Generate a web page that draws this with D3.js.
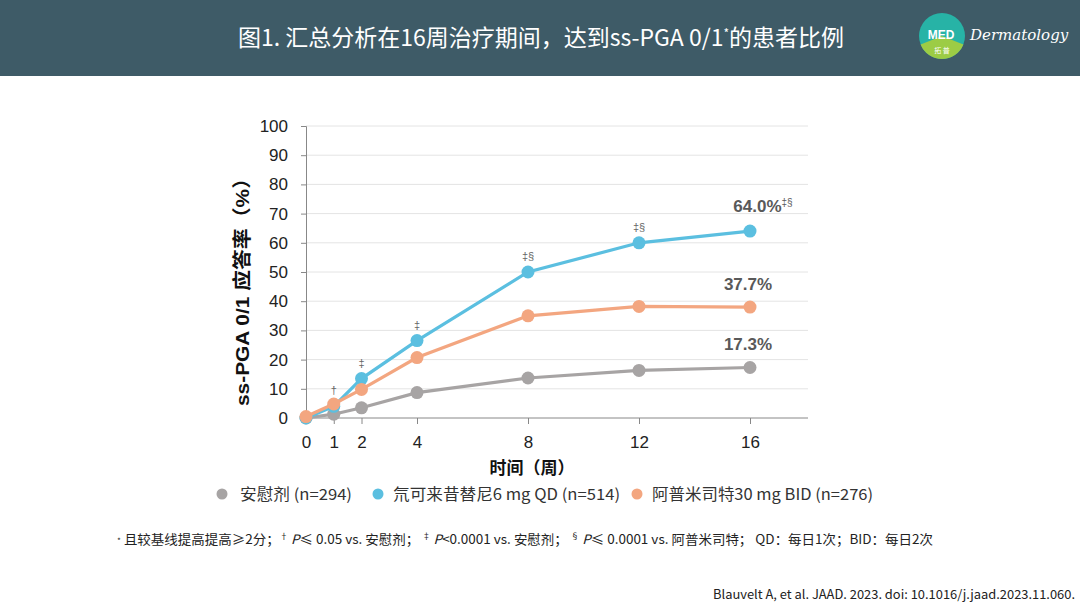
<!DOCTYPE html>
<html>
<head>
<meta charset="utf-8">
<script src="https://cdn.jsdelivr.net/npm/d3@7"></script>
<style>
  body { margin: 0; background: #fff; }
  svg { display: block; font-family: "Liberation Sans", Arial, "Noto Sans CJK SC", sans-serif; }
</style>
</head>
<body>
<div id="chart"></div>
<script>
/*
------------------------------
DATA: weeks, series values, labels
------------------------------
*/
const weeks = [0, 1, 2, 4, 8, 12, 16];
const xTicks = [0, 1, 2, 4, 8, 12, 16];
const yTicks = [0, 10, 20, 30, 40, 50, 60, 70, 80, 90, 100];

const placebo = [0, 1.3, 3.5, 8.7, 13.7, 16.3, 17.3];
const deucra = [0, 4.0, 13.5, 26.5, 50.0, 60.0, 64.0];
const apremilast = [0.5, 4.8, 9.8, 20.7, 35.0, 38.2, 38.0];

const seriesNames = ["安慰剂 (n=294)", "氘可来昔替尼6 mg QD (n=514)", "阿普米司特30 mg BID (n=276)"];
const endLabels = ["17.3%", "64.0%", "37.7%"];
const endSup = ["", "‡§", ""];

// significance markers above the blue series
const sigWeeks = [1, 2, 4, 8, 12];
const sigMarks = ["†", "‡", "‡", "‡§", "‡§"];
const sigValues = [4.0, 13.5, 26.5, 50.0, 60.0];

const colors = ["#a7a4a4", "#5bbfe0", "#f3a680"];

/*
------------------------------
SETUP
------------------------------
*/
const W = 1080, H = 608;
const svg = d3.select("#chart").append("svg")
  .attr("width", W).attr("height", H);

// header band
svg.append("rect").attr("x", 0).attr("y", 0).attr("width", W).attr("height", 76)
  .attr("fill", "#3e5b67");

const title = svg.append("text")
  .attr("x", 541).attr("y", 46)
  .attr("text-anchor", "middle")
  .attr("fill", "#fff")
  .attr("textLength", 606)
  .attr("lengthAdjust", "spacingAndGlyphs")
  .style("font-family", "'Noto Sans CJK SC', sans-serif")
  .style("font-size", "23px");
title.append("tspan").text("图1. 汇总分析在16周治疗期间，达到ss-PGA 0/1");
title.append("tspan").attr("dy", -8).style("font-size", "12px").text("*");
title.append("tspan").attr("dy", 8).text("的患者比例");

// logo
const logo = svg.append("g").attr("transform", "translate(942,36)");
logo.append("circle").attr("r", 23).attr("fill", "#27b3a6");
logo.append("path")
  .attr("d", d3.arc()({ innerRadius: 0, outerRadius: 23, startAngle: Math.PI * 0.62, endAngle: Math.PI * 1.38 }))
  .attr("fill", "#9ccc45");
logo.append("text").attr("x", -1).attr("y", 3).attr("text-anchor", "middle")
  .attr("fill", "#fff").style("font-size", "12px").style("font-weight", "bold").text("MED");
logo.append("text").attr("x", 0).attr("y", 17).attr("text-anchor", "middle")
  .attr("fill", "#fff").style("font-size", "7px").style("font-family", "'Noto Sans CJK SC'").text("拓 普");
svg.append("text").attr("x", 970).attr("y", 40)
  .attr("fill", "#fff")
  .style("font-family", "'DejaVu Serif', serif")
  .style("font-style", "italic")
  .style("font-size", "15px")
  .text("Dermatology");

/*
------------------------------
SCALES AND AXES
------------------------------
*/
const x = d3.scaleLinear().domain([0, 16]).range([306, 750]);
const y = d3.scaleLinear().domain([0, 100]).range([418, 126]);
const xEnd = 808;

const g = svg.append("g");

// gridlines
g.selectAll("line.grid")
  .data(yTicks.filter(d => d > 0))
  .join("line")
  .attr("class", "grid")
  .attr("x1", x(0)).attr("x2", xEnd)
  .attr("y1", d => y(d)).attr("y2", d => y(d))
  .attr("stroke", "#e4e4e4").attr("stroke-width", 1);

// y axis
const yAxis = g.append("g")
  .attr("transform", `translate(${x(0)},0)`)
  .call(d3.axisLeft(y).tickValues(yTicks).tickSize(5).tickPadding(13));
yAxis.select(".domain").attr("stroke", "#888");
yAxis.selectAll(".tick line").attr("stroke", "#888");
yAxis.selectAll(".tick text").attr("fill", "#222").style("font-size", "17px");

// x axis
const xAxis = g.append("g")
  .attr("transform", `translate(0,${y(0)})`)
  .call(d3.axisBottom(x).tickValues(xTicks).tickSize(6).tickPadding(12).tickSizeOuter(0));
xAxis.select(".domain").attr("d", `M${x(0)},0H${xEnd}`).attr("stroke", "#888");
xAxis.selectAll(".tick line").attr("stroke", "#888");
xAxis.selectAll(".tick text").attr("fill", "#222").style("font-size", "17px");

// axis titles
svg.append("text")
  .attr("transform", `translate(249,${(y(0) + y(100)) / 2 + 15}) rotate(-90)`)
  .attr("text-anchor", "middle")
  .attr("fill", "#111")
  .attr("textLength", 238)
  .attr("lengthAdjust", "spacingAndGlyphs")
  .style("font-size", "19px")
  .style("font-weight", "bold")
  .style("font-family", "'Liberation Sans', 'Noto Sans CJK SC', sans-serif")
  .text("ss-PGA  0/1 应答率（%）");

svg.append("text")
  .attr("x", 532).attr("y", 474)
  .attr("text-anchor", "middle")
  .attr("fill", "#111")
  .style("font-size", "17px")
  .style("font-weight", "bold")
  .style("font-family", "'Noto Sans CJK SC', sans-serif")
  .text("时间（周）");

/*
------------------------------
LINES AND POINTS
------------------------------
*/
const allSeries = [placebo, deucra, apremilast];
const line = d3.line().x((d, i) => x(weeks[i])).y(d => y(d));

allSeries.forEach((vals, si) => {
  g.append("path")
    .datum(vals)
    .attr("d", line)
    .attr("fill", "none")
    .attr("stroke", colors[si])
    .attr("stroke-width", 3.2);
  g.selectAll(null)
    .data(vals)
    .join("circle")
    .attr("cx", (d, i) => x(weeks[i]))
    .attr("cy", d => y(d))
    .attr("r", 6.5)
    .attr("fill", colors[si]);
});

// significance markers
g.selectAll("text.sig")
  .data(sigMarks)
  .join("text")
  .attr("class", "sig")
  .attr("x", (d, i) => x(sigWeeks[i]))
  .attr("y", (d, i) => y(sigValues[i]) - 12)
  .attr("text-anchor", "middle")
  .attr("fill", "#666")
  .style("font-size", "11px")
  .text(d => d);

// end value labels
const endShift = [0, 15, 0];
allSeries.forEach((vals, si) => {
  const t = g.append("text")
    .attr("x", x(16) - 2 + endShift[si])
    .attr("y", y(vals[vals.length - 1]) - (si === 1 ? 19 : 17))
    .attr("text-anchor", "middle")
    .attr("fill", "#595959")
    .style("font-size", "17px")
    .style("font-weight", "bold");
  t.append("tspan").text(endLabels[si]);
  if (endSup[si]) {
    t.append("tspan").attr("dy", -6).style("font-size", "10px").style("font-weight", "normal").text(endSup[si]);
  }
});

/*
------------------------------
LEGEND
------------------------------
*/
const legendDot = [222, 378, 637];
const legendText = [240, 393, 652];
const legendWidth = [112, 227, 221];
const legend = svg.append("g");
seriesNames.forEach((name, i) => {
  legend.append("circle").attr("cx", legendDot[i]).attr("cy", 494).attr("r", 5.5).attr("fill", colors[i]);
  legend.append("text")
    .attr("x", legendText[i]).attr("y", 500)
    .attr("fill", "#333")
    .attr("textLength", legendWidth[i])
    .attr("lengthAdjust", "spacingAndGlyphs")
    .style("font-size", "15.5px")
    .style("font-family", "'Noto Sans CJK SC', sans-serif")
    .text(name);
});

/*
------------------------------
FOOTNOTES
------------------------------
*/
const foot = svg.append("text")
  .attr("x", 117).attr("y", 549)
  .attr("fill", "#222")
  .attr("textLength", 816)
  .attr("lengthAdjust", "spacingAndGlyphs")
  .style("font-size", "13px")
  .style("font-family", "'Noto Sans CJK SC', sans-serif");
const footParts = [
  ["sup", "*"], ["", " 且较基线提高提高≥2分；"],
  ["sup", "†"], ["i", " P"], ["", "≤ 0.05 vs. 安慰剂；  "],
  ["sup", "‡"], ["i", " P"], ["", "<0.0001 vs. 安慰剂；  "],
  ["sup", "§"], ["i", " P"], ["", "≤ 0.0001 vs.  阿普米司特；  QD：每日1次；BID：每日2次"]
];
footParts.forEach(([kind, txt]) => {
  const ts = foot.append("tspan").text(txt);
  if (kind === "sup") ts.attr("dy", -5).style("font-size", "8px");
  else if (kind === "i") ts.attr("dy", 5).style("font-style", "italic");
  else ts.attr("dy", 0);
});

svg.append("text")
  .attr("x", 713).attr("y", 599)
  .attr("fill", "#222")
  .attr("textLength", 362)
  .attr("lengthAdjust", "spacingAndGlyphs")
  .style("font-size", "12.5px")
  .style("font-family", "'Noto Sans CJK SC', sans-serif")
  .text("Blauvelt A, et al. JAAD. 2023. doi: 10.1016/j.jaad.2023.11.060.");
</script>
</body>
</html>
